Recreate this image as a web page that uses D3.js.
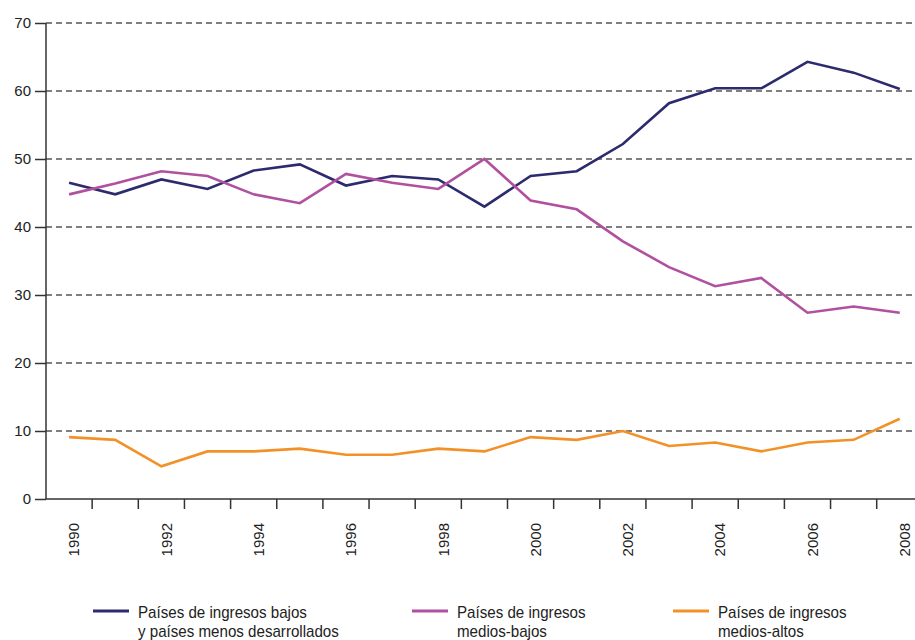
<!DOCTYPE html>
<html lang="es">
<head>
  <meta charset="UTF-8">
  <title>Países por nivel de ingresos</title>
  <script src="https://d3js.org/d3.v7.min.js"></script>
  <style>
    body {
      margin: 0;
      background: #fff;
      font-family: "Liberation Sans", Arial, sans-serif;
    }
    svg { display: block; }
    .grid line {
      stroke: #555;
      stroke-width: 1.3;
      stroke-dasharray: 6 4;
    }
    .axis path, .axis line {
      stroke: #333;
      stroke-width: 1.5;
    }
    .axis text {
      font-size: 15px;
      fill: #222;
    }
    .legend text {
      font-size: 17px;
      fill: #222;
    }
  </style>
</head>
<body>
  <svg width="915" height="640"></svg>

  <script>
    const years = d3.range(1990, 2009);
    const yTicks = [0, 10, 20, 30, 40, 50, 60, 70];

    const lowIncome = [46.5, 44.8, 47.0, 45.6, 48.3, 49.2, 46.1, 47.5, 47.0, 43.0,
                       47.5, 48.2, 52.2, 58.2, 60.4, 60.4, 64.3, 62.7, 60.3];
    const lowerMiddle = [44.8, 46.4, 48.2, 47.5, 44.8, 43.5, 47.8, 46.5, 45.6, 50.0,
                         43.9, 42.6, 37.9, 34.1, 31.3, 32.5, 27.4, 28.3, 27.4];
    const upperMiddle = [9.1, 8.7, 4.8, 7.0, 7.0, 7.4, 6.5, 6.5, 7.4, 7.0,
                         9.1, 8.7, 10.0, 7.8, 8.3, 7.0, 8.3, 8.7, 11.8];

    const seriesNames = [
      ['Países de ingresos bajos', 'y países menos desarrollados'],
      ['Países de ingresos', 'medios-bajos'],
      ['Países de ingresos', 'medios-altos']
    ];
    const colors = ['#2c2b6d', '#b0509e', '#f39129'];

    const svg = d3.select('svg');
    const marginLeft = 46, plotTop = 23, plotBottom = 499;
    const step = 46.15;

    const x = d3.scaleBand()
      .domain(years)
      .range([marginLeft, marginLeft + step * years.length])
      .paddingInner(0).paddingOuter(0);

    const y = d3.scaleLinear()
      .domain([0, 70])
      .range([plotBottom, plotTop]);

    const cx = d => x(d) + x.bandwidth() / 2;

    // dashed gridlines
    svg.append('g')
      .attr('class', 'grid')
      .selectAll('line')
      .data(yTicks.filter(t => t > 0))
      .enter()
      .append('line')
      .attr('x1', marginLeft)
      .attr('x2', 915)
      .attr('y1', d => y(d))
      .attr('y2', d => y(d));

    // y axis
    const yAxis = d3.axisLeft(y)
      .tickValues(yTicks)
      .tickSize(11)
      .tickPadding(4);

    const gy = svg.append('g')
      .attr('class', 'axis')
      .attr('transform', `translate(${marginLeft},0)`)
      .call(yAxis);
    gy.select('.domain').attr('d', `M0,${plotTop}V${plotBottom}`);

    // x axis line and boundary ticks
    const gx = svg.append('g').attr('class', 'axis');
    gx.append('line')
      .attr('x1', marginLeft).attr('x2', 915)
      .attr('y1', plotBottom).attr('y2', plotBottom);
    gx.selectAll('line.tick')
      .data(years.slice(1))
      .enter()
      .append('line')
      .attr('class', 'tick')
      .attr('x1', d => x(d)).attr('x2', d => x(d))
      .attr('y1', plotBottom).attr('y2', plotBottom + 10);

    // x labels, rotated
    gx.selectAll('text')
      .data(years.filter(d => d % 2 === 0))
      .enter()
      .append('text')
      .attr('transform', d => `translate(${cx(d) + 5},${plotBottom + 24}) rotate(-90)`)
      .attr('dy', '0.35em')
      .attr('text-anchor', 'end')
      .text(d => d);

    // lines
    const line = d3.line()
      .x((d, i) => cx(years[i]))
      .y(d => y(d));

    [lowIncome, lowerMiddle, upperMiddle].forEach((s, i) => {
      svg.append('path')
        .datum(s)
        .attr('fill', 'none')
        .attr('stroke', colors[i])
        .attr('stroke-width', 2.6)
        .attr('stroke-linejoin', 'miter')
        .attr('d', line);
    });

    // legend (text squeezed a little, the original type is narrow)
    const legendX = [93, 412, 673];
    const legend = svg.append('g').attr('class', 'legend');
    seriesNames.forEach((name, i) => {
      const g = legend.append('g').attr('transform', `translate(${legendX[i]},611)`);
      g.append('line')
        .attr('x1', 0).attr('x2', 36)
        .attr('y1', 0).attr('y2', 0)
        .attr('stroke', colors[i])
        .attr('stroke-width', 3);
      g.append('text')
        .attr('transform', 'translate(45,7) scale(0.89,1)')
        .selectAll('tspan')
        .data(name)
        .enter()
        .append('tspan')
        .attr('x', 0)
        .attr('dy', (d, j) => j === 0 ? 0 : 19)
        .text(d => d);
    });
  </script>
</body>
</html>
